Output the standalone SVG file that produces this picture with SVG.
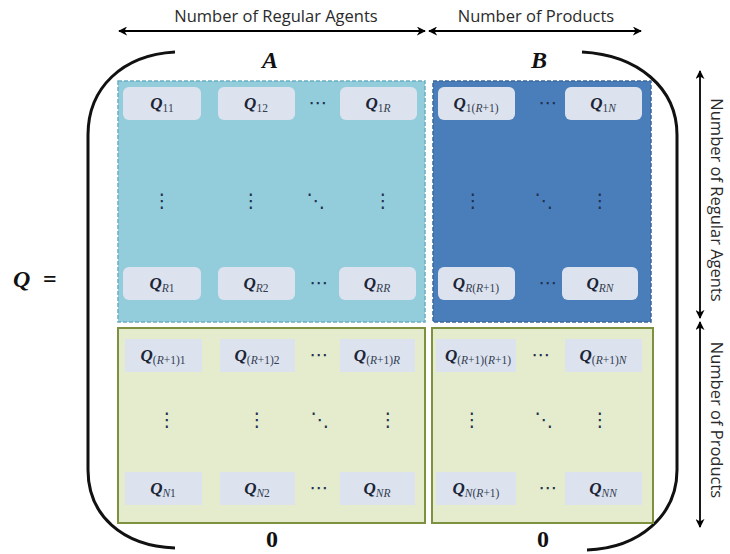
<svg xmlns="http://www.w3.org/2000/svg" width="730" height="554" viewBox="0 0 730 554">
<defs>
<marker id="ah" viewBox="0 0 10 10" refX="9" refY="5" markerWidth="9" markerHeight="9" markerUnits="userSpaceOnUse" orient="auto-start-reverse">
<path d="M0,0 L10,5 L0,10 L3,5 Z" fill="#000"/>
</marker>
<style>
.lbl{font-family:"Open Sans","Liberation Sans",sans-serif;font-size:16.5px;fill:#2a2a2a}
.big{font-family:"Liberation Serif",serif;font-weight:bold;font-style:italic;font-size:24px;fill:#111}
.zero{font-family:"Liberation Serif",serif;font-weight:bold;font-size:24px;fill:#111}
.q{font-family:"Liberation Serif",serif;font-weight:bold;font-style:italic;font-size:17px;fill:#1c2536;text-anchor:middle}
.s{font-weight:normal;font-style:normal;font-size:11.5px;fill:#333c4f}
.si{font-weight:normal;font-style:italic;font-size:11.5px;fill:#333c4f}
.d{font-family:"DejaVu Sans",sans-serif;font-size:19px;fill:#1f3050;text-anchor:middle}
.cellR{fill:#dde3ee}
.cellG{fill:#dce3ef}
.arr{stroke:#000;stroke-width:1.8;fill:none}
.brk{stroke:#111;stroke-width:3;fill:none}
</style>
</defs>

<g id="connectors">
<line class="arr" x1="119" y1="31" x2="425" y2="31" marker-start="url(#ah)" marker-end="url(#ah)"/>
<line class="arr" x1="429" y1="31" x2="641" y2="31" marker-start="url(#ah)" marker-end="url(#ah)"/>
<line class="arr" x1="700" y1="71" x2="700" y2="318" marker-start="url(#ah)" marker-end="url(#ah)"/>
<line class="arr" x1="700" y1="322" x2="700" y2="527" marker-start="url(#ah)" marker-end="url(#ah)"/>
</g>

<g id="labels">
<text class="lbl" x="276" y="22" text-anchor="middle">Number of Regular Agents</text>
<text class="lbl" x="536" y="22" text-anchor="middle">Number of Products</text>
<text class="lbl" transform="translate(711,200) rotate(90)" text-anchor="middle">Number of Regular Agents</text>
<text class="lbl" transform="translate(711,420) rotate(90)" text-anchor="middle">Number of Products</text>
<text class="big" x="270" y="68" text-anchor="middle">A</text>
<text class="big" x="539" y="68" text-anchor="middle">B</text>
<text class="zero" x="272" y="547" text-anchor="middle">0</text>
<text class="zero" x="543" y="547" text-anchor="middle">0</text>
<text class="big" x="13" y="287" font-size="29">Q</text>
<text class="zero" x="43" y="287" font-size="29" font-weight="normal">=</text>
</g>

<g id="brackets">
<path class="brk" d="M175,52 C122,55 88,88 88,135 L88,470 C88,515 122,546 175,548"/>
<path class="brk" d="M582,52 C638,55 677,88 677,135 L677,470 C677,515 640,548 587,550"/>
</g>

<g id="blockA">
<rect x="118" y="81" width="307" height="241" fill="#93cddc" stroke="#6aaec2" stroke-width="1.5" stroke-dasharray="4 2"/>
<g id="Q11"><rect class="cellR" x="123" y="87" width="78" height="33" rx="6"/><text class="q" x="162" y="109">Q<tspan class="s" dy="3">11</tspan></text></g>
<g id="Q12"><rect class="cellR" x="218" y="87" width="77" height="33" rx="6"/><text class="q" x="256" y="109">Q<tspan class="s" dy="3">12</tspan></text></g>
<text class="d" x="318" y="109">⋯</text>
<g id="Q1R"><rect class="cellR" x="340" y="87" width="77" height="33" rx="6"/><text class="q" x="378" y="109">Q<tspan class="s" dy="3">1</tspan><tspan class="si">R</tspan></text></g>
<text class="d" x="162" y="207">⋮</text>
<text class="d" x="251" y="207">⋮</text>
<text class="d" x="316" y="207">⋱</text>
<text class="d" x="383" y="207">⋮</text>
<g id="QR1"><rect class="cellR" x="123" y="267" width="78" height="33" rx="6"/><text class="q" x="162" y="289">Q<tspan class="si" dy="3">R</tspan><tspan class="s">1</tspan></text></g>
<g id="QR2"><rect class="cellR" x="218" y="267" width="77" height="33" rx="6"/><text class="q" x="256" y="289">Q<tspan class="si" dy="3">R</tspan><tspan class="s">2</tspan></text></g>
<text class="d" x="319" y="289">⋯</text>
<g id="QRR"><rect class="cellR" x="339" y="267" width="77" height="33" rx="6"/><text class="q" x="377" y="289">Q<tspan class="si" dy="3">RR</tspan></text></g>
</g>

<g id="blockB">
<rect x="433" y="81" width="218" height="241" fill="#4a7ebb" stroke="#3b679c" stroke-width="1.5" stroke-dasharray="4 2"/>
<g id="Q1R1"><rect class="cellR" x="438" y="87" width="77" height="33" rx="6"/><text class="q" x="476" y="109">Q<tspan class="s" dy="3">1(</tspan><tspan class="si">R</tspan><tspan class="s">+1)</tspan></text></g>
<text class="d" x="548" y="109">⋯</text>
<g id="Q1N"><rect class="cellR" x="565" y="87" width="77" height="33" rx="6"/><text class="q" x="603" y="109">Q<tspan class="s" dy="3">1</tspan><tspan class="si">N</tspan></text></g>
<text class="d" x="473" y="207">⋮</text>
<text class="d" x="544" y="207">⋱</text>
<text class="d" x="600" y="207">⋮</text>
<g id="QRR1"><rect class="cellR" x="438" y="267" width="77" height="33" rx="6"/><text class="q" x="476" y="289">Q<tspan class="si" dy="3">R</tspan><tspan class="s">(</tspan><tspan class="si">R</tspan><tspan class="s">+1)</tspan></text></g>
<text class="d" x="548" y="289">⋯</text>
<g id="QRN"><rect class="cellR" x="562" y="267" width="76" height="33" rx="6"/><text class="q" x="600" y="289">Q<tspan class="si" dy="3">RN</tspan></text></g>
</g>

<g id="blockC">
<rect x="118" y="328" width="307" height="195" fill="#e5ebcd" stroke="#7d9140" stroke-width="2"/>
<g id="QR11"><rect class="cellG" x="125" y="339" width="77" height="33"/><text class="q" x="163" y="361">Q<tspan class="s" dy="3">(</tspan><tspan class="si">R</tspan><tspan class="s">+1)1</tspan></text></g>
<g id="QR12"><rect class="cellG" x="220" y="339" width="75" height="33"/><text class="q" x="257" y="361">Q<tspan class="s" dy="3">(</tspan><tspan class="si">R</tspan><tspan class="s">+1)2</tspan></text></g>
<text class="d" x="319" y="361">⋯</text>
<g id="QR1R"><rect class="cellG" x="340" y="339" width="75" height="33"/><text class="q" x="377" y="361">Q<tspan class="s" dy="3">(</tspan><tspan class="si">R</tspan><tspan class="s">+1)</tspan><tspan class="si">R</tspan></text></g>
<text class="d" x="167" y="426">⋮</text>
<text class="d" x="257" y="426">⋮</text>
<text class="d" x="320" y="426">⋱</text>
<text class="d" x="388" y="426">⋮</text>
<g id="QN1"><rect class="cellG" x="125" y="472" width="77" height="33"/><text class="q" x="163" y="494">Q<tspan class="si" dy="3">N</tspan><tspan class="s">1</tspan></text></g>
<g id="QN2"><rect class="cellG" x="220" y="472" width="75" height="33"/><text class="q" x="257" y="494">Q<tspan class="si" dy="3">N</tspan><tspan class="s">2</tspan></text></g>
<text class="d" x="319" y="494">⋯</text>
<g id="QNR"><rect class="cellG" x="340" y="472" width="75" height="33"/><text class="q" x="377" y="494">Q<tspan class="si" dy="3">NR</tspan></text></g>
</g>

<g id="blockD">
<rect x="432" y="328" width="221" height="195" fill="#e5ebcd" stroke="#7d9140" stroke-width="2"/>
<g id="QR1R1"><rect class="cellG" x="436" y="339" width="80" height="33"/><text class="q" x="478" y="361">Q<tspan class="s" dy="3">(</tspan><tspan class="si">R</tspan><tspan class="s">+1)(</tspan><tspan class="si">R</tspan><tspan class="s">+1)</tspan></text></g>
<text class="d" x="541" y="361">⋯</text>
<g id="QR1N"><rect class="cellG" x="565" y="339" width="77" height="33"/><text class="q" x="603" y="361">Q<tspan class="s" dy="3">(</tspan><tspan class="si">R</tspan><tspan class="s">+1)</tspan><tspan class="si">N</tspan></text></g>
<text class="d" x="472" y="426">⋮</text>
<text class="d" x="544" y="426">⋱</text>
<text class="d" x="600" y="426">⋮</text>
<g id="QNR1"><rect class="cellG" x="436" y="472" width="80" height="33"/><text class="q" x="476" y="494">Q<tspan class="si" dy="3">N</tspan><tspan class="s">(</tspan><tspan class="si">R</tspan><tspan class="s">+1)</tspan></text></g>
<text class="d" x="548" y="494">⋯</text>
<g id="QNN"><rect class="cellG" x="565" y="472" width="77" height="33"/><text class="q" x="603" y="494">Q<tspan class="si" dy="3">NN</tspan></text></g>
</g>
</svg>
